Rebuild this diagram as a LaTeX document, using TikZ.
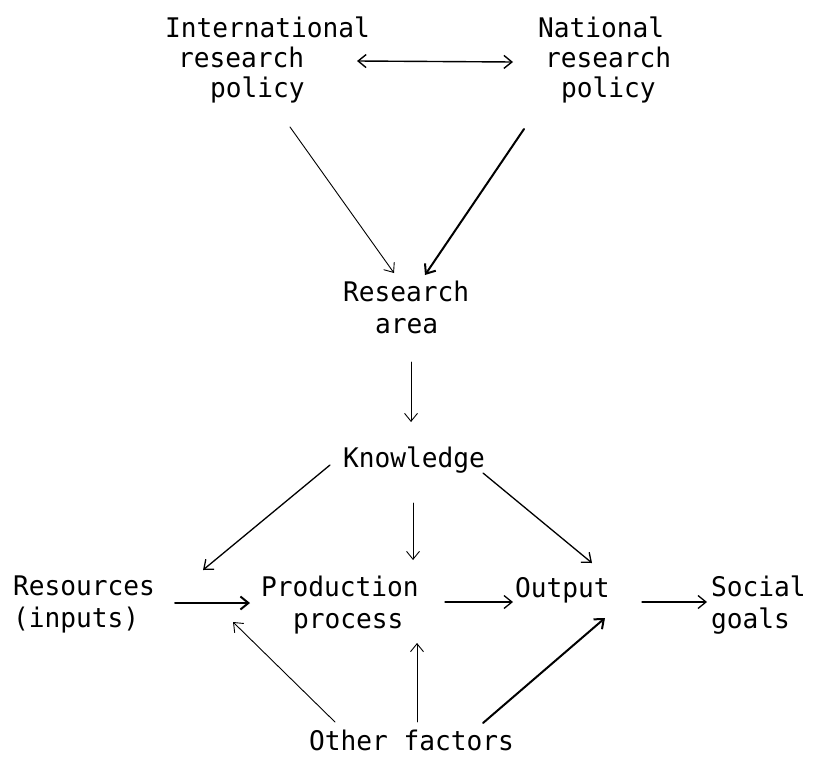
\documentclass[tikz,border=0pt]{standalone}
\usepackage{fontspec}
\newfontfamily\twfont[FakeStretch=0.97]{DejaVu Sans Mono}
\usetikzlibrary{arrows.meta}
\begin{document}
\begin{tikzpicture}[x=1pt,y=-1pt,
  lbl/.style={inner sep=0pt, outer sep=0pt, anchor=base west, align=left,
    font=\twfont\fontsize{27pt}{32pt}\selectfont},
  lbltop/.style={lbl, font=\twfont\fontsize{27pt}{30pt}\selectfont},
  con/.style={-{Straight Barb[length=8pt,width=13pt]}, line cap=round},
  lnA/.style={con, line width=0.9pt},
  lnB/.style={con, line width=1.3pt},
  lnC/.style={con, line width=2pt},
  dbl/.style={{Straight Barb[length=8pt,width=13pt]}-{Straight Barb[length=8pt,width=13pt]}, line width=1.4pt}
]
\useasboundingbox (0,0) rectangle (818,760);
\fill[white] (0,0) rectangle (818,760);

% base west = baseline of the last line
\node[lbltop] (intl) at (165,97) {International\\\hspace*{13pt}research\\\hspace*{45pt}policy};
\node[lbltop] (natl) at (538,97) {National\\\hspace*{7pt}research\\\hspace*{23pt}policy};
\node[lbl] (area) at (343,333) {Research\\\hspace*{32pt}area};
\node[lbl] (know) at (343,467) {Knowledge};
\node[lbl] (res) at (13,627) {Resources\\(inputs)};
\node[lbl] (prod) at (261,628) {Production\\\hspace*{32pt}process};
\node[lbl] (out) at (515,597) {Output};
\node[lbl] (soc) at (711,628) {Social\\goals};
\node[lbl] (other) at (309,750) {Other factors};

\draw[dbl] ([shift={(192,-36)}]intl.base west) -- ([shift={(-25,-35)}]natl.base west);
\draw[lnA] ([shift={(125,30)}]intl.base west) -- ([shift={(51,-60)}]area.base west);
\draw[lnC] ([shift={(-14,32)}]natl.base west) -- ([shift={(82,-58)}]area.base west);
\draw[lnA] ([shift={(68,29)}]area.base west) -- ([shift={(68,-45)}]know.base west);
\draw[lnB] ([shift={(-13,-2)}]know.base west) -- ([shift={(190,-57)}]res.base west);
\draw[lnA] ([shift={(70,36)}]know.base west) -- ([shift={(152,-68)}]prod.base west);
\draw[lnB] ([shift={(140,6)}]know.base west) -- ([shift={(77,-34)}]out.base west);
\draw[lnC] ([shift={(162,-24)}]res.base west) -- ([shift={(-11,-25)}]prod.base west);
\draw[lnB] ([shift={(184,-26)}]prod.base west) -- ([shift={(-2,5)}]out.base west);
\draw[lnB] ([shift={(127,5)}]out.base west) -- ([shift={(-4,-26)}]soc.base west);
\draw[lnA] ([shift={(26,-28)}]other.base west) -- ([shift={(-28,-6)}]prod.base west);
\draw[lnA] ([shift={(108,-28)}]other.base west) -- ([shift={(156,15)}]prod.base west);
\draw[lnC] ([shift={(174,-27)}]other.base west) -- ([shift={(90,21)}]out.base west);
\end{tikzpicture}
\end{document}
